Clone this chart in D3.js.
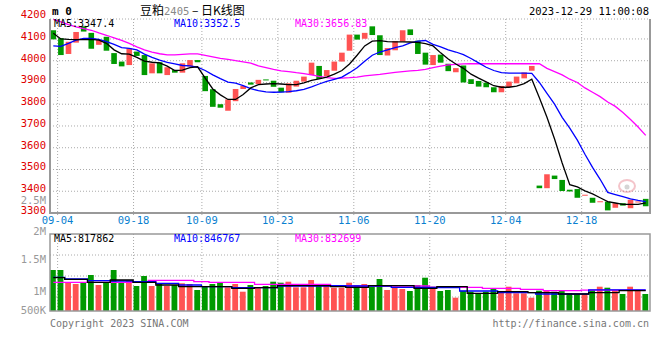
<!DOCTYPE html>
<html>
<head>
<meta charset="utf-8">
<script src="https://cdn.jsdelivr.net/npm/d3@7"></script>
<style>
  body { margin: 0; background: #fff; }
  text { font-family: "DejaVu Sans Mono", monospace; font-size: 10px; }
</style>
</head>
<body>
<svg id="chart" width="660" height="360"></svg>
<script>
// trading days shown on the chart
const dates = [
  "09-04","09-05","09-06","09-07","09-08","09-11","09-12","09-13","09-14","09-15",
  "09-18","09-19","09-20","09-21","09-22","09-25","09-26","09-27","09-28",
  "10-09","10-10","10-11","10-12","10-13","10-16","10-17","10-18","10-19","10-20",
  "10-23","10-24","10-25","10-26","10-27","10-30","10-31",
  "11-01","11-02","11-03","11-06","11-07","11-08","11-09","11-10","11-13","11-14","11-15","11-16","11-17",
  "11-20","11-21","11-22","11-23","11-24","11-27","11-28","11-29","11-30",
  "12-01","12-04","12-05","12-06","12-07","12-08","12-11","12-12","12-13","12-14","12-15",
  "12-18","12-19","12-20","12-21","12-22","12-25","12-26","12-27","12-28","12-29"
];

const open = [
  4140,4104,4031,4083,4158,4128,4073,4110,4035,3996,
  3980,4042,4026,3942,3993,3934,3957,3945,3973,4003,
  3930,3869,3800,3770,3814,3870,3900,3893,3914,3908,
  3876,3853,3881,3904,3934,3976,3928,3954,3996,4046,
  4120,4101,4158,4117,4024,4048,4088,4144,4092,4037,
  3980,4028,3986,3947,3978,3915,3907,3899,3878,3855,
  3879,3896,3919,3954,3426,3414,3472,3452,3407,3410,
  3382,3370,3352,3352,3324,3345,3322,3350,3365
];
const high = [
  4148,4127,4098,4145,4173,4138,4122,4118,4040,4010,
  4066,4048,4030,3995,4000,3975,3958,4011,4017,4025,
  3935,3875,3838,3827,3890,3905,3954,3925,3948,3950,
  3885,3942,3912,3935,4011,3980,3965,4000,4055,4125,
  4144,4145,4162,4125,4080,4149,4142,4145,4102,4040,
  4030,4035,3990,3970,3982,3922,3915,3905,3880,3890,
  3938,3930,3950,3978,3472,3481,3480,3455,3442,3418,
  3400,3375,3368,3355,3355,3350,3375,3370,3375
];
const low = [
  4065,4016,4026,4075,4126,4046,4068,4040,3965,3951,
  3975,4010,3922,3930,3935,3910,3910,3920,3940,3960,
  3855,3785,3755,3765,3808,3865,3888,3882,3895,3874,
  3830,3845,3875,3895,3925,3912,3922,3950,3990,4030,
  4095,4098,4098,4020,4020,4040,4085,4095,4020,3950,
  3975,3985,3945,3940,3881,3870,3870,3865,3816,3850,
  3875,3860,3855,3950,3410,3405,3443,3398,3395,3357,
  3370,3343,3330,3305,3315,3330,3318,3340,3325
];
const close = [
  4098,4026,4087,4132,4134,4055,4095,4046,3985,3974,
  4057,4022,3934,3988,3942,3970,3945,3988,4003,3993,
  3860,3788,3784,3822,3870,3884,3890,3912,3912,3880,
  3855,3896,3908,3927,3991,3916,3957,3996,4037,4120,
  4097,4128,4118,4026,4058,4090,4140,4118,4031,3982,
  4026,3991,3952,3966,3900,3893,3881,3878,3855,3884,
  3904,3927,3946,3976,3414,3478,3456,3401,3399,3370,
  3384,3347,3354,3312,3345,3334,3361,3353,3331
];

// moving averages as drawn on the chart
const ma5 = [
  4126,4100,4098,4097,4097,4098,4095,4080,4050,4032,
  4030,4015,3998,3993,3990,3975,3955,3957,3968,3972,
  3920,3870,3843,3822,3822,3845,3875,3890,3893,3895,
  3893,3890,3890,3898,3910,3917,3925,3938,3955,3985,
  4025,4068,4090,4092,4088,4087,4087,4086,4084,4079,
  4068,4036,4008,3985,3965,3938,3920,3903,3885,3878,
  3878,3883,3895,3915,3830,3740,3640,3530,3430,3420,
  3402,3388,3370,3352,3346,3340,3340,3340,3347
];
const ma10 = [
  4068,4066,4080,4095,4102,4102,4098,4088,4075,4060,
  4057,4050,4030,4015,4003,3992,3985,3978,3976,3970,
  3955,3935,3918,3902,3897,3885,3872,3862,3857,3855,
  3856,3858,3862,3868,3880,3893,3905,3914,3925,3945,
  3968,3998,4025,4040,4050,4060,4068,4082,4090,4093,
  4075,4064,4050,4040,4028,4010,3990,3970,3955,3945,
  3943,3943,3943,3942,3900,3850,3800,3740,3690,3635,
  3570,3510,3455,3395,3385,3375,3365,3358,3352
];
const ma30 = [
  4190,4178,4166,4155,4148,4140,4128,4117,4105,4093,
  4080,4064,4050,4040,4032,4027,4027,4029,4031,4031,
  4025,4018,4011,4006,4000,3995,3989,3976,3968,3960,
  3953,3950,3945,3941,3935,3928,3922,3919,3920,3922,
  3925,3930,3934,3937,3942,3946,3950,3953,3956,3960,
  3968,3975,3981,3983,3985,3986,3986,3986,3986,3986,
  3986,3986,3986,3987,3986,3965,3950,3935,3915,3900,
  3875,3855,3835,3810,3790,3762,3730,3695,3657
];

const volume = [
  1640000,1640000,1148000,1080000,1148000,1440000,1040000,1148000,1640000,1148000,
  1200000,1000000,1400000,1000000,1080000,1000000,1040000,1108000,1080000,840000,
  972000,1080000,1132000,948000,1080000,772000,1040000,932000,1000000,1172000,
  1132000,1172000,948000,948000,1240000,1080000,1000000,932000,932000,1132000,
  1040000,1080000,972000,1280000,840000,972000,880000,800000,1040000,1332000,
  972000,800000,840000,532000,812000,772000,680000,772000,908000,772000,
  972000,708000,708000,532000,812000,812000,772000,812000,708000,680000,
  680000,840000,972000,932000,840000,680000,972000,812000,680000
];
const volMa5 = [
  1332000,1332000,1268000,1268000,1268000,1148000,1148000,1148000,1240000,1240000,
  1240000,1148000,1148000,1148000,1040000,1040000,1040000,972000,972000,972000,
  972000,972000,972000,972000,908000,908000,908000,932000,932000,932000,
  1012000,1012000,1012000,1012000,1012000,1012000,1012000,972000,972000,948000,
  948000,948000,1012000,1012000,1012000,1012000,1012000,1012000,908000,908000,
  908000,972000,972000,972000,972000,708000,708000,708000,708000,772000,
  772000,772000,772000,732000,732000,732000,732000,680000,680000,680000,
  680000,732000,732000,732000,732000,818000,818000,818000,818000
];
const volMa10 = [
  1348000,1348000,1280000,1280000,1280000,1212000,1212000,1212000,1200000,1200000,
  1200000,1172000,1172000,1172000,1108000,1108000,1108000,1040000,1040000,1040000,
  972000,972000,972000,972000,932000,932000,932000,932000,932000,932000,
  1000000,1000000,1000000,1000000,1000000,1000000,1000000,1012000,1012000,1000000,
  1000000,1000000,1000000,1000000,1000000,948000,948000,948000,948000,948000,
  948000,932000,932000,932000,800000,800000,800000,800000,800000,732000,
  732000,732000,732000,732000,680000,680000,680000,680000,680000,680000,
  680000,848000,848000,848000,848000,848000,848000,848000,848000
];
const volMa30 = [
  1148000,1148000,1148000,1148000,1148000,1148000,1148000,1148000,1148000,1148000,
  1148000,1148000,1148000,1228000,1228000,1228000,1228000,1228000,1228000,1172000,
  1172000,1148000,1148000,1148000,1148000,1148000,1148000,1068000,1068000,1068000,
  1068000,1068000,1068000,1068000,1068000,1068000,1068000,1000000,1000000,1000000,
  1000000,1000000,1000000,1000000,1000000,1000000,1000000,1000000,1000000,1000000,
  948000,948000,948000,948000,948000,948000,948000,908000,908000,908000,
  908000,908000,868000,868000,868000,812000,812000,812000,812000,812000,
  832000,832000,832000,832000,832000,832000,832000,832000,832000
];

const priceTicks = [3300, 3400, 3500, 3600, 3700, 3800, 3900, 4000, 4100, 4200];
const volTickValues = [2500000, 2000000, 1500000, 1000000, 500000];
const volTickLabels = ["2.5M", "2M", "1.5M", "1M", "500K"];
const dateTicks = ["09-04","09-18","10-09","10-23","11-06","11-20","12-04","12-18"];

const svg = d3.select("#chart");
const left = 50, right = 650;
const mainTop = 19, mainBottom = 213;
const volTop = 234, volBottom = 311;
const RED = "#ff5353", GREEN = "#009900";

const x = d3.scaleBand().domain(dates).range([left, right]);
const bw = x.bandwidth();
const cx = d => x(d) + 3.3;

const y = d3.scaleLinear().domain([3300, 4200]).range([mainBottom, 17.2]);
const yVol = d3.scaleLinear().domain([0, 1000000]).range([volBottom, volBottom - 25]);
// the volume labels on the original sit unevenly
const yVolLabel = d3.scaleLinear().domain(volTickValues).range([200.5, 232, 260, 291.5, 310.5]);

const rows = dates.map((d, i) => ({
  date: d, o: open[i], h: high[i], l: low[i], c: close[i], v: volume[i],
  m5: ma5[i], m10: ma10[i], m30: ma30[i],
  vm5: volMa5[i], vm10: volMa10[i], vm30: volMa30[i]
}));
const colorOf = d => d.c >= d.o ? RED : GREEN;

svg.append("defs").append("clipPath").attr("id", "mainClip")
  .append("rect").attr("x", left).attr("y", mainTop).attr("width", right - left).attr("height", mainBottom - mainTop);

// header
svg.append("text").attr("x", 52).attr("y", 15)
  .style("font-size", "11px").style("font-weight", "bold").text("m 0");
const title = svg.append("text").attr("x", 140).attr("y", 15)
  .style("font-family", "'Noto Sans CJK SC', sans-serif").style("font-size", "12px");
title.append("tspan").text("豆粕");
title.append("tspan").attr("fill", "#888").style("font-family", "'DejaVu Sans Mono', monospace").style("font-size", "10.5px").text("2405");
title.append("tspan").text(" – 日K线图");
svg.append("text").attr("x", 649).attr("y", 15).attr("text-anchor", "end")
  .style("font-size", "10.5px").text("2023-12-29 11:00:08");

// grid
const grid = svg.append("g").attr("stroke", "#aaa").attr("stroke-dasharray", "1,2");
grid.selectAll(".hg").data(priceTicks.filter(t => t > 3300 && t < 4200)).enter().append("line")
  .attr("x1", left).attr("x2", right).attr("y1", d => y(d)).attr("y2", d => y(d));
grid.append("line").attr("x1", left).attr("x2", right).attr("y1", mainTop).attr("y2", mainTop);
[255, 276, 297].forEach(v => grid.append("line").attr("x1", left).attr("x2", right).attr("y1", v).attr("y2", v));
grid.selectAll(".vg").data(dateTicks).enter().append("line")
  .attr("x1", d => x(d) + bw).attr("x2", d => x(d) + bw).attr("y1", mainTop).attr("y2", mainBottom + 3);
grid.selectAll(".vg2").data(dateTicks).enter().append("line")
  .attr("x1", d => x(d) + bw).attr("x2", d => x(d) + bw).attr("y1", volTop).attr("y2", volBottom);

// price labels
svg.selectAll(".pl").data(priceTicks).enter().append("text")
  .attr("x", 46).attr("y", d => y(d) - 2).attr("text-anchor", "end").attr("dominant-baseline", "middle")
  .attr("fill", "#e00000").style("font-size", "10.5px").text(d => d);

// volume labels
svg.selectAll(".vl").data(volTickValues).enter().append("text")
  .attr("x", 46).attr("y", d => yVolLabel(d)).attr("text-anchor", "end").attr("dominant-baseline", "middle")
  .attr("fill", "#999").style("font-size", "10.5px").text((d, i) => volTickLabels[i]);

// date labels
svg.selectAll(".dl").data(dateTicks).enter().append("text")
  .attr("x", d => x(d) + bw).attr("y", 221).attr("text-anchor", "middle").attr("dominant-baseline", "middle")
  .attr("fill", "#0a7fd0").style("font-size", "10.5px").text(d => d);

// faint sina watermark
const wm = svg.append("g").attr("opacity", 0.35);
wm.append("ellipse").attr("cx", 627).attr("cy", 186).attr("rx", 8).attr("ry", 6)
  .attr("fill", "none").attr("stroke", "#e05a6a").attr("stroke-width", 2);
wm.append("circle").attr("cx", 627).attr("cy", 187).attr("r", 2.5).attr("fill", "#888");

// candles
const main = svg.append("g").attr("clip-path", "url(#mainClip)");
main.selectAll(".wick").data(rows).enter().append("line")
  .attr("x1", cx).attr("x2", cx)
  .attr("y1", d => y(d.h)).attr("y2", d => y(d.l))
  .attr("stroke", colorOf).attr("stroke-width", 1);
main.selectAll(".body").data(rows).enter().append("rect")
  .attr("x", d => x(d.date) + 0.5).attr("width", 5.6)
  .attr("y", d => y(Math.max(d.o, d.c)))
  .attr("height", d => Math.max(1, Math.abs(y(d.o) - y(d.c))))
  .attr("fill", colorOf);

const maLine = key => d3.line().x(d => cx(d.date)).y(d => y(d[key]));
[["m30", "#ff00ff"], ["m10", "#0000ff"], ["m5", "#000"]].forEach(([k, c]) => {
  main.append("path").datum(rows).attr("d", maLine(k))
    .attr("fill", "none").attr("stroke", c).attr("stroke-width", 1.3);
});

// volume bars
svg.selectAll(".vb").data(rows).enter().append("rect")
  .attr("x", d => x(d.date)).attr("width", 5.8)
  .attr("y", d => yVol(d.v)).attr("height", d => volBottom - yVol(d.v))
  .attr("fill", colorOf);

const volLine = key => d3.line().curve(d3.curveStep).x(d => cx(d.date)).y(d => yVol(d[key]));
[["vm30", "#ff00ff"], ["vm10", "#0000ff"], ["vm5", "#000"]].forEach(([k, c]) => {
  svg.append("path").datum(rows).attr("d", volLine(k))
    .attr("fill", "none").attr("stroke", c).attr("stroke-width", 1.3);
});

// frames
const frame = svg.append("g").attr("stroke", "#999").attr("fill", "none");
frame.append("path").attr("stroke-width", 2)
  .attr("d", `M${left},${mainTop}V${mainBottom}H${right}V${mainTop}`);
frame.append("rect").attr("stroke-width", 1.5)
  .attr("x", left).attr("y", volTop).attr("width", right - left).attr("height", volBottom - volTop);

// MA legends
const legend = (yy, items) => items.forEach(([tx, xx, c]) =>
  svg.append("text").attr("x", xx).attr("y", yy).attr("fill", c).text(tx));
legend(27, [["MA5:3347.4", 54, "#000"], ["MA10:3352.5", 174, "#0000ff"], ["MA30:3656.83", 295, "#ff00ff"]]);
legend(242, [["MA5:817862", 54, "#000"], ["MA10:846767", 174, "#0000ff"], ["MA30:832699", 295, "#ff00ff"]]);

// footer
svg.append("text").attr("x", 50).attr("y", 327).attr("fill", "#777")
  .text("Copyright 2023 SINA.COM");
svg.append("text").attr("x", 649).attr("y", 327).attr("text-anchor", "end").attr("fill", "#777")
  .text("http://finance.sina.com.cn");
</script>
</body>
</html>
